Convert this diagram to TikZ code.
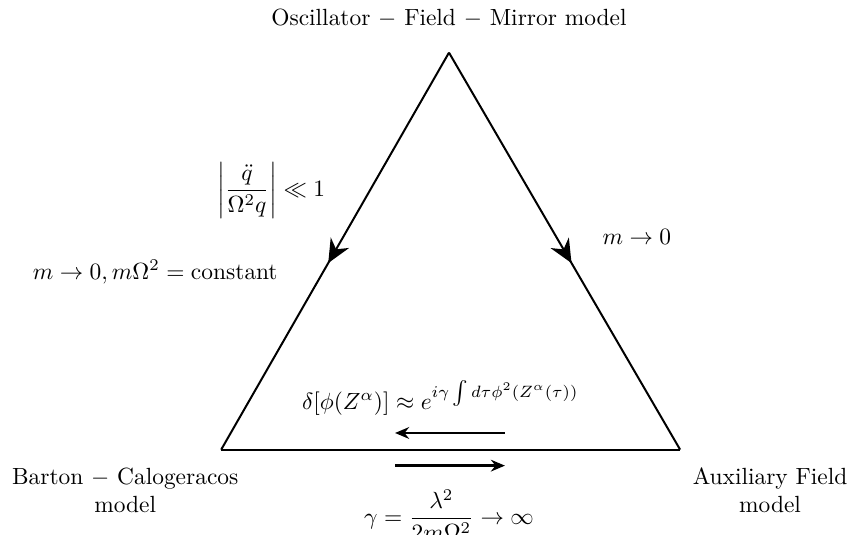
\documentclass[tikz,border=0pt]{standalone}
\usetikzlibrary{arrows.meta,decorations.markings}
\begin{document}
\begin{tikzpicture}[
  edge/.style={line width=0.85pt},
  midarrow/.style={postaction={decorate},decoration={markings,mark=at position 0.53 with {\arrow{Stealth[length=10pt,width=9pt]}}}},
  harrow/.style={line width=1.2pt,-{Stealth[length=6pt,width=5pt]}},
  lbl/.style={inner sep=0pt,align=center}
]
\useasboundingbox (0,0) rectangle (12.79,8.03);
\coordinate (apex) at (6.74,7.24);
\coordinate (bl) at (3.32,1.28);
\coordinate (br) at (10.21,1.28);
\draw[edge,midarrow] (apex) -- (bl);
\draw[edge,midarrow] (apex) -- (br);
\draw[edge] (bl) -- (br);
\coordinate (t1) at (7.58,1.53);
\coordinate (t2) at (5.93,1.53);
\coordinate (b1) at (5.93,1.04);
\coordinate (b2) at (7.58,1.04);
\draw[harrow] (t1) -- (t2);
\draw[harrow] (b1) -- (b2);
\node[lbl] (top) at (6.74,7.76) {Oscillator $-$ Field $-$ Mirror model};
\node[lbl] (cond) at (4.07,5.17) {$\displaystyle\left|\frac{\ddot q}{\Omega^2 q}\right| \ll 1$};
\node[lbl] (lim1) at (2.33,3.95) {$m\to 0, m\Omega^2=\mathrm{constant}$};
\node[lbl] (lim2) at (9.56,4.47) {$m\to 0$};
\node[lbl] (delta) at (6.61,2.06) {$\delta[\phi(Z^\alpha)]\approx e^{i\gamma\int d\tau\phi^2(Z^\alpha(\tau))}$};
\node[lbl] (gam) at (6.74,0.30) {$\displaystyle\gamma=\frac{\lambda^2}{2m\Omega^2}\to\infty$};
\node[lbl] (bc) at (1.88,0.675) {Barton $-$ Calogeracos\\model};
\node[lbl] (af) at (11.56,0.675) {Auxiliary Field\\model};
\end{tikzpicture}
\end{document}
